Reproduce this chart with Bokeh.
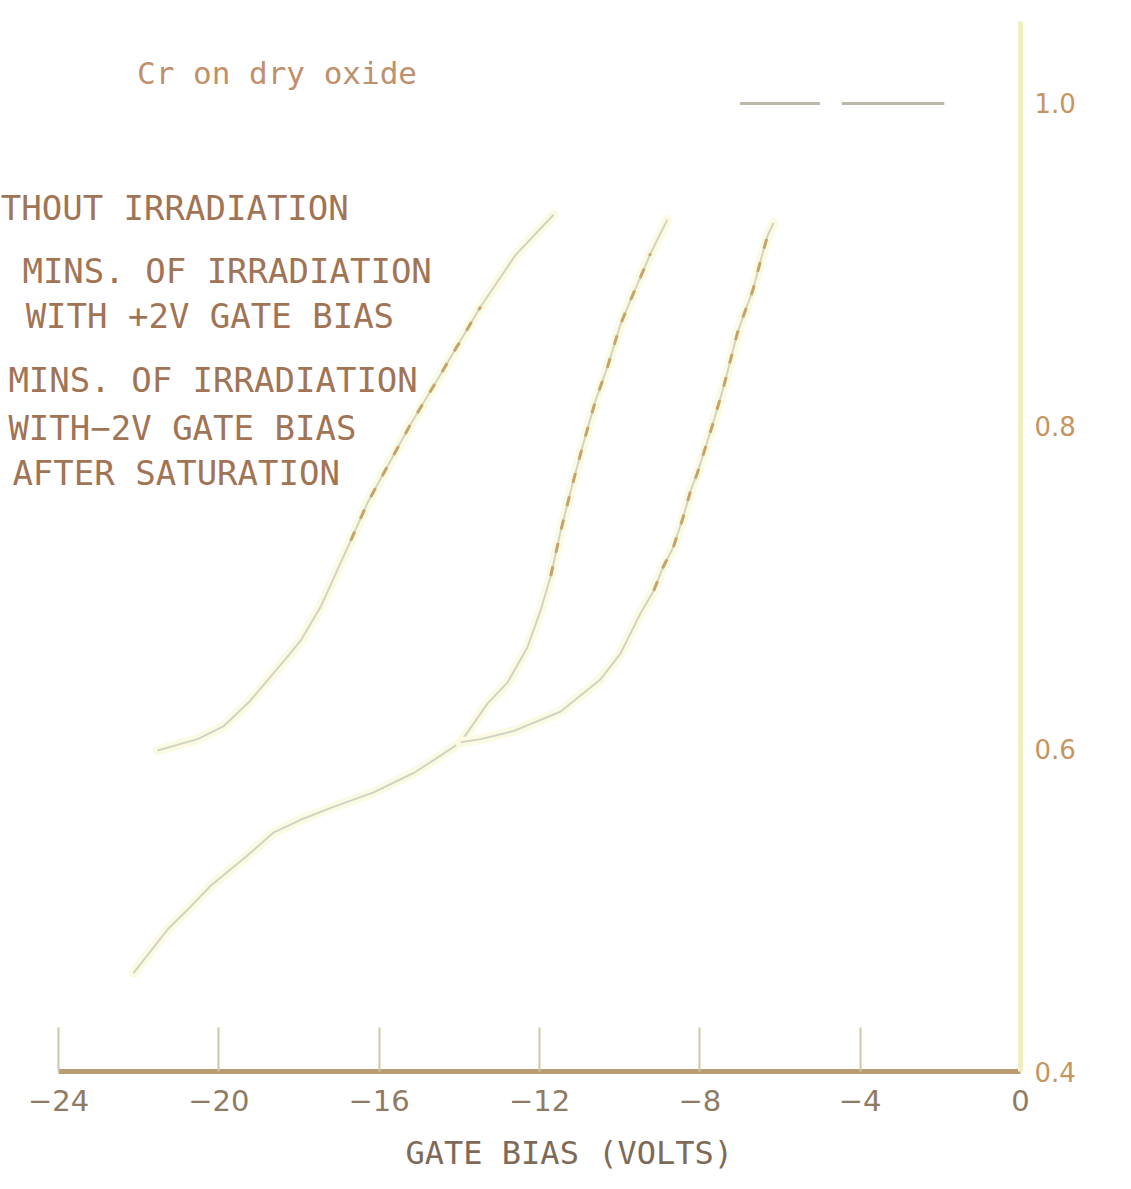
from bokeh.plotting import figure
from bokeh.models import Range1d, FixedTicker, Label, Title, PrintfTickFormatter
from bokeh.embed import file_html
from bokeh.resources import INLINE
import numpy as np

# ---- data -------------------------------------------------------------
gate_ticks = [-24, -20, -16, -12, -8, -4, 0]
level_ticks = [0.4, 0.6, 0.8, 1.0]

# common low-bias branch shared by the two irradiated curves
shared_v = [-22.13, -21.28, -20.71, -20.21, -19.28, -18.64, -17.96, -17.14,
            -16.14, -15.14, -14.64, -13.97]
shared_c = [0.461, 0.488, 0.502, 0.515, 0.534, 0.548, 0.556, 0.564,
            0.573, 0.585, 0.593, 0.604]

# without irradiation
base_v = [-21.53, -20.53, -19.88, -19.21, -18.29, -17.96, -17.46, -16.71,
          -16.30, -15.84, -15.22, -14.47, -13.97, -13.47, -12.60, -11.65]
base_c = [0.599, 0.606, 0.614, 0.630, 0.657, 0.667, 0.688, 0.729,
          0.752, 0.773, 0.801, 0.832, 0.853, 0.874, 0.906, 0.931]

# irradiated with +2 V gate bias
plus_v = [-13.30, -12.80, -12.30, -11.97, -11.72, -11.48, -11.23, -10.93,
          -10.60, -10.30, -9.98, -9.73, -9.40, -9.23, -8.81]
plus_c = [0.628, 0.641, 0.663, 0.686, 0.707, 0.734, 0.759, 0.787,
          0.816, 0.837, 0.863, 0.878, 0.897, 0.907, 0.928]

# irradiated with -2 V gate bias after saturation
minus_v = [-13.47, -12.65, -11.48, -10.48, -9.98, -9.48, -9.15, -8.91,
           -8.66, -8.41, -8.23, -8.06, -7.68, -7.41, -7.06, -6.86, -6.68,
           -6.48, -6.31, -6.16]
minus_c = [0.606, 0.611, 0.623, 0.643, 0.659, 0.684, 0.698, 0.713,
           0.725, 0.744, 0.760, 0.771, 0.801, 0.824, 0.858, 0.872, 0.884,
           0.903, 0.918, 0.926]

ref_level = 1.0
ref_v = [-7.0, -1.9]

title_text = "Cr on dry oxide"
note_lines = ["THOUT IRRADIATION",
              "MINS. OF IRRADIATION",
              "WITH +2V GATE BIAS",
              "MINS. OF IRRADIATION",
              "WITH\u22122V GATE BIAS",
              "AFTER SATURATION"]
note_x = [-25.44, -24.90, -24.82, -25.25, -25.25, -25.15]
note_y = [0.935, 0.896, 0.868, 0.8285, 0.799, 0.771]
x_title = "GATE BIAS (VOLTS)"

# ---- figure -----------------------------------------------------------
p = figure(width=1131, height=1189,
           x_range=Range1d(-25.447, 0.0), y_range=Range1d(0.4, 1.0638),
           output_backend="svg", toolbar_location=None,
           x_axis_location="below", y_axis_location="right",
           min_border_left=0, min_border_top=0,
           min_border_right=111, min_border_bottom=117)
p.outline_line_color = None
p.grid.visible = False
p.background_fill_color = "white"
p.border_fill_color = "white"

xa = p.xaxis[0]
xa.ticker = FixedTicker(ticks=gate_ticks)
xa.bounds = (-24, 0)
xa.axis_line_color = "#b99c70"
xa.axis_line_width = 5
xa.major_tick_in = 44
xa.major_tick_out = 0
xa.major_tick_line_color = "#cdc8ab"
xa.major_tick_line_width = 2
xa.minor_tick_line_color = None
xa.major_label_standoff = 18
xa.major_label_text_font = "DejaVu Sans"
xa.major_label_text_font_size = "29px"
xa.major_label_text_color = "#8f7b63"

ya = p.yaxis[0]
ya.ticker = FixedTicker(ticks=level_ticks)
ya.formatter = PrintfTickFormatter(format="%.1f")
ya.bounds = (0.4, 1.051)
ya.axis_line_color = "#f0efc4"
ya.axis_line_width = 5
ya.major_tick_in = 0
ya.major_tick_out = 0
ya.minor_tick_line_color = None
ya.major_label_standoff = 14
ya.major_label_text_font = "DejaVu Sans"
ya.major_label_text_font_size = "26px"
ya.major_label_text_color = "#c4955f"

# axis title, set in from the left edge of the frame
p.add_layout(Title(text=x_title, align="left", offset=405,
                   text_font="DejaVu Sans Mono", text_font_size="32px",
                   text_font_style="normal", text_color="#7d6a58",
                   standoff=36), "below")

# ---- curves -----------------------------------------------------------
def faint_curve(v, c):
    p.line(v, c, line_color="#fbfbe4", line_width=10, line_cap="round")
    p.line(v, c, line_color="#d2d2c2", line_width=2)

def dashed_part(v, c, lo, hi):
    v = np.asarray(v)
    c = np.asarray(c)
    m = (c >= lo) & (c <= hi)
    p.line(v[m], c[m], line_color="#c4a36c", line_width=3, line_dash="10 14")

faint_curve(shared_v, shared_c)
faint_curve(base_v, base_c)
faint_curve([shared_v[-1]] + plus_v, [shared_c[-1]] + plus_c)
faint_curve([shared_v[-1]] + minus_v, [shared_c[-1]] + minus_c)

dashed_part(base_v, base_c, 0.725, 0.885)
dashed_part(plus_v, plus_c, 0.70, 0.91)
dashed_part(minus_v, minus_c, 0.69, 0.922)

# saturation level marker
p.line(ref_v, [ref_level, ref_level], line_color="#bdb7aa", line_width=3,
       line_dash="80 22 110 30")

# ---- texts ------------------------------------------------------------
p.add_layout(Label(x=-22.04, y=1.0186, text=title_text,
                   text_font="DejaVu Sans Mono", text_font_size="31px",
                   text_color="#c0906c", text_baseline="middle"))

for line, lx, ly in zip(note_lines, note_x, note_y):
    p.add_layout(Label(x=lx, y=ly, text=line, text_font="DejaVu Sans Mono",
                       text_font_size="34px", text_color="#a07455",
                       text_baseline="middle"))

open("out.html", "w").write(file_html(p, INLINE))
